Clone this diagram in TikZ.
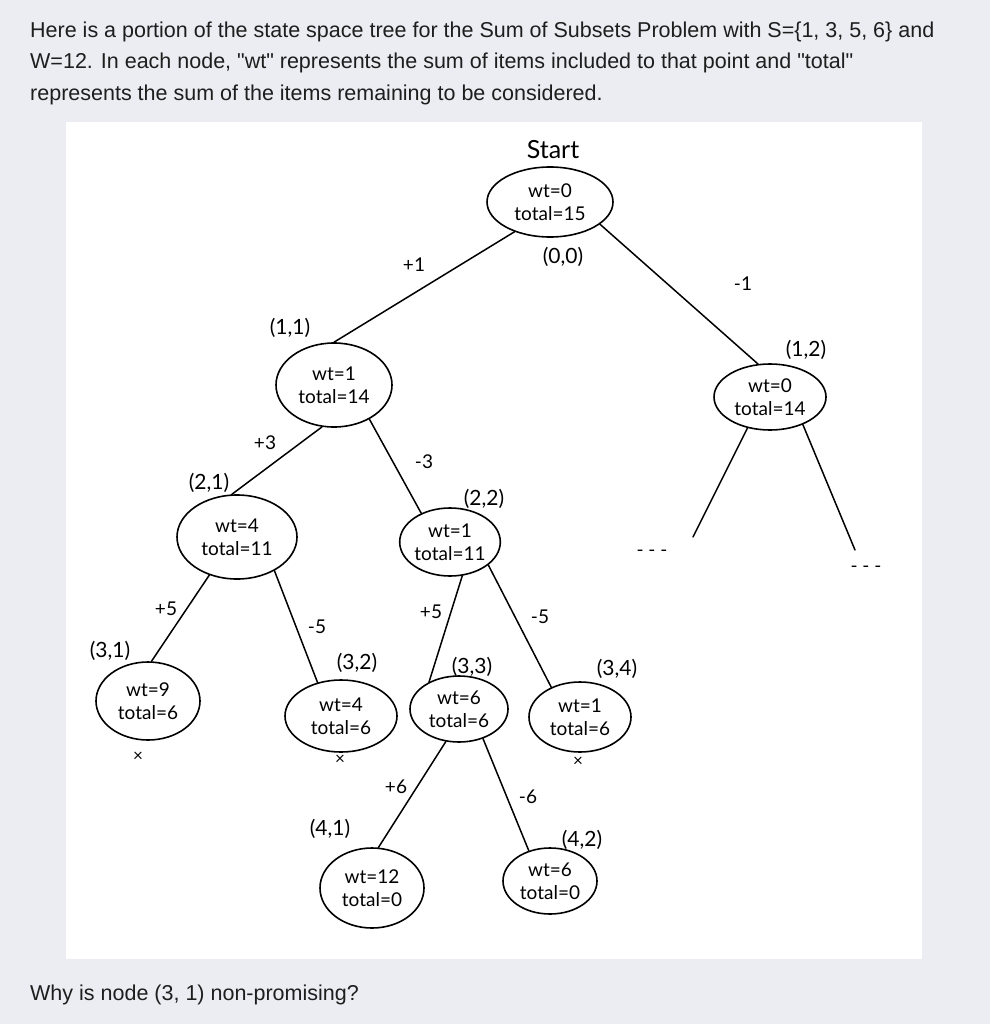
\documentclass[tikz,border=0pt]{standalone}
\usepackage{fontspec}
\setmainfont{Liberation Sans}[Ligatures=TeXOff]
\newfontfamily\handfont{Lato}
\usetikzlibrary{positioning,shapes.geometric}
\definecolor{pagegray}{RGB}{236,237,242}
\definecolor{inktext}{RGB}{30,30,30}
\tikzset{
  statenode/.style={draw, ellipse, line width=1.6pt, inner sep=0pt, align=center, font=\handfont\fontsize{19}{23}\selectfont},
  treeedge/.style={line width=1.5pt},
  poslabel/.style={font=\handfont\fontsize{21}{21}\selectfont, inner sep=1pt},
  edgelabel/.style={font=\handfont\fontsize{19}{19}\selectfont, inner sep=1pt},
  deadmark/.style={font=\handfont\fontsize{17}{17}\selectfont, inner sep=0pt},
  prosetext/.style={font=\fontsize{21.5}{26}\selectfont, text=inktext, anchor=base west, inner sep=0pt}
}
\begin{document}
\begin{tikzpicture}[x=1pt, y=-1pt, line cap=round]
  % page and panel
  \fill[pagegray] (0,0) rectangle (990,1024);
  \fill[white] (66,122) rectangle (922,959);
  \node[prosetext] (intro1) at (30,38) {Here is a portion of the state space tree for the Sum of Subsets Problem with S=\{1, 3, 5, 6\} and};
  \node[prosetext] (intro2) at (30,69) {W=12. In each node, "wt" represents the sum of items included to that point and "total"};
  \node[prosetext] (intro3) at (30,101) {represents the sum of the items remaining to be considered.};
  \node[prosetext] (question) at (30,1000) {Why is node (3, 1) non-promising?};

  % tree nodes
  \node[statenode, minimum width=126pt, minimum height=70pt] (start) at (550,202) {wt=0\\total=15};
  \node[statenode, minimum width=116pt, minimum height=84pt] (n11) at (334,385) {wt=1\\total=14};
  \node[statenode, minimum width=112pt, minimum height=66pt] (n12) at (770,397) {wt=0\\total=14};
  \node[statenode, minimum width=120pt, minimum height=84pt] (n21) at (237,537) {wt=4\\total=11};
  \node[statenode, minimum width=94pt, minimum height=68pt] (n22) at (450,542) {wt=1\\total=11};
  \node[statenode, minimum width=104pt, minimum height=78pt] (n31) at (148,701) {wt=9\\total=6};
  \node[statenode, minimum width=112pt, minimum height=72pt] (n32) at (341,716) {wt=4\\total=6};
  \node[statenode, minimum width=98pt, minimum height=66pt] (n33) at (459,709) {wt=6\\total=6};
  \node[statenode, minimum width=102pt, minimum height=70pt] (n34) at (580,717) {wt=1\\total=6};
  \node[statenode, minimum width=104pt, minimum height=80pt] (n41) at (372,888) {wt=12\\total=0};
  \node[statenode, minimum width=94pt, minimum height=66pt] (n42) at (550,881) {wt=6\\total=0};
  \coordinate (n12left) at (693,537);
  \coordinate (n12right) at (855,550);

  % position labels
  \node[poslabel, font=\handfont\fontsize{25}{25}\selectfont] (startlbl) at (553,150) {Start};
  \node[poslabel] (lbl00) at (563,257) {(0,0)};
  \node[poslabel] (lbl11) at (290,328) {(1,1)};
  \node[poslabel] (lbl12) at (806,350) {(1,2)};
  \node[poslabel] (lbl21) at (209,483) {(2,1)};
  \node[poslabel] (lbl22) at (484,499) {(2,2)};
  \node[poslabel] (lbl31) at (110,651) {(3,1)};
  \node[poslabel] (lbl32) at (357,663) {(3,2)};
  \node[poslabel] (lbl33) at (472,667) {(3,3)};
  \node[poslabel] (lbl34) at (617,669) {(3,4)};
  \node[poslabel] (lbl41) at (330,829) {(4,1)};
  \node[poslabel] (lbl42) at (582,840) {(4,2)};

  % edges
  \draw[treeedge] (start.220) -- (n11.90);
  \draw[treeedge] (start.336) -- (n12.110);
  \draw[treeedge] (n11.254) -- (n21.97);
  \draw[treeedge] (n11.316) -- (n22.135);
  \draw[treeedge] (n12.234) -- (n12left);
  \draw[treeedge] (n12.320) -- (n12right);
  \draw[treeedge] (n21.234) -- (n31.85);
  \draw[treeedge] (n21.318) -- (n32.125);
  \draw[treeedge] (n22.290) -- (n33.138);
  \draw[treeedge] (n22.329) -- (n34.134);
  \draw[treeedge] (n33.248) -- (n41.81);
  \draw[treeedge] (n33.309) -- (n42.125);

  % edge labels
  \node[edgelabel] (add1) at (414,265) {+1};
  \node[edgelabel] (skip1) at (743,284) {-1};
  \node[edgelabel] (add3) at (265,443) {+3};
  \node[edgelabel] (skip3) at (424,462) {-3};
  \node[edgelabel] (add5a) at (166,609) {+5};
  \node[edgelabel] (skip5a) at (317,627) {-5};
  \node[edgelabel] (add5b) at (431,612) {+5};
  \node[edgelabel] (skip5b) at (540,617) {-5};
  \node[edgelabel] (add6) at (396,787) {+6};
  \node[edgelabel] (skip6) at (528,797) {-6};
  \node[edgelabel] (moreleft) at (652,553) {- - -};
  \node[edgelabel] (moreright) at (866,569) {- - -};

  % non-promising marks
  \node[deadmark] (dead31) at (138,757) {×};
  \node[deadmark] (dead32) at (340,760) {×};
  \node[deadmark] (dead34) at (578,762) {×};
\end{tikzpicture}
\end{document}
